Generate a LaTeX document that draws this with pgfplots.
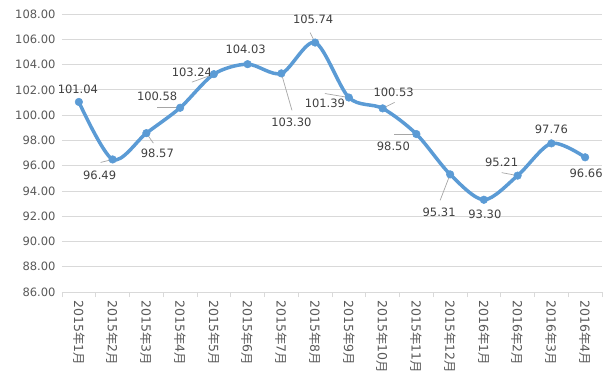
\documentclass[border=0pt]{standalone}
\usepackage{fontspec}
\setmainfont{DejaVu Sans}
\newfontfamily\cjk{Noto Sans CJK SC}
\usepackage{pgfplots}
\pgfplotsset{compat=1.18}
\definecolor{linec}{HTML}{5B9BD5}
\definecolor{gridc}{HTML}{D9D9D9}
\definecolor{tickc}{HTML}{595959}
\definecolor{labc}{HTML}{404040}
\definecolor{leadc}{HTML}{A6A6A6}
\newcommand{\ym}[2]{#1{\cjk 年}#2{\cjk 月}}
\begin{document}
\begin{tikzpicture}
\begin{axis}[
  scale only axis, width=540bp, height=278bp,
  xmin=-0.5, xmax=15.5, ymin=86, ymax=108,
  ytick={86,88,90,92,94,96,98,100,102,104,106,108},
  yticklabel={\pgfmathprintnumber[fixed,fixed zerofill,precision=2,assume math mode=true]{\tick}},
  xtick={0,...,15},
  xticklabels={\ym{2015}{1},\ym{2015}{2},\ym{2015}{3},\ym{2015}{4},\ym{2015}{5},\ym{2015}{6},\ym{2015}{7},\ym{2015}{8},\ym{2015}{9},\ym{2015}{10},\ym{2015}{11},\ym{2015}{12},\ym{2016}{1},\ym{2016}{2},\ym{2016}{3},\ym{2016}{4}},
  minor xtick={-0.5,0.5,...,15.5},
  axis lines*=left,
  x axis line style={draw=gridc, line width=0.75bp},
  y axis line style={draw=none},
  ymajorgrids, grid style={draw=gridc, line width=0.75bp},
  major tick length=0pt, minor tick length=5bp,
  tick align=outside,
  minor tick style={draw=gridc, line width=0.75bp},
  major tick style={draw=none},
  yticklabel style={font=\fontsize{11.5bp}{13bp}\selectfont, text=tickc, xshift=-3bp},
  xticklabel style={font=\fontsize{12.5bp}{14bp}\selectfont, text=tickc, rotate=-90, anchor=west, xshift=5bp},
  clip=false,
]
\coordinate (ll) at (rel axis cs:0,0);
\coordinate (ur) at (rel axis cs:1,1);
\addplot[linec, line width=3.5bp, smooth, tension=0.5, mark=*, mark size=3.8bp,
  mark options={fill=linec, draw=linec, line width=0.5bp}] coordinates {
(0,101.04) (1,96.49) (2,98.57) (3,100.58) (4,103.24) (5,104.03) (6,103.30) (7,105.74)
(8,101.39) (9,100.53) (10,98.50) (11,95.31) (12,93.30) (13,95.21) (14,97.76) (15,96.66)};
% leader lines
\draw[leadc, line width=0.7bp] (axis cs:1,96.49) -- ++(-12bp,-3bp);
\draw[leadc, line width=0.7bp] (axis cs:2,98.57) -- ++(7bp,-10bp);
\draw[leadc, line width=0.7bp] (axis cs:3,100.58) -- ++(-23bp,0bp);
\draw[leadc, line width=0.7bp] (axis cs:4,103.24) -- ++(-22bp,-8bp);
\draw[leadc, line width=0.7bp] (axis cs:6,103.30) -- ++(10.6bp,-37bp);
\draw[leadc, line width=0.7bp] (axis cs:7,105.74) -- ++(-5bp,10bp);
\draw[leadc, line width=0.7bp] (axis cs:8,101.39) -- ++(-24bp,4bp);
\draw[leadc, line width=0.7bp] (axis cs:9,100.53) -- ++(12bp,6bp);
\draw[leadc, line width=0.7bp] (axis cs:10,98.50) -- ++(-22bp,0bp);
\draw[leadc, line width=0.7bp] (axis cs:11,95.31) -- ++(-10bp,-26bp);
\draw[leadc, line width=0.7bp] (axis cs:13,95.21) -- ++(-16bp,3bp);
\tikzset{dl/.style={font=\fontsize{11.5bp}{13bp}\selectfont, text=labc, inner sep=0pt, fill=none}}
\node[dl, xshift=-1bp, yshift=13bp] at (axis cs:0,101.04) {101.04};
\node[dl, xshift=-13bp, yshift=-16bp] at (axis cs:1,96.49) {96.49};
\node[dl, xshift=11bp, yshift=-20bp] at (axis cs:2,98.57) {98.57};
\node[dl, xshift=-23bp, yshift=11bp] at (axis cs:3,100.58) {100.58};
\node[dl, xshift=-22bp, yshift=2bp] at (axis cs:4,103.24) {103.24};
\node[dl, xshift=-2bp, yshift=15bp] at (axis cs:5,104.03) {104.03};
\node[dl, xshift=10bp, yshift=-49bp] at (axis cs:6,103.30) {103.30};
\node[dl, xshift=-2bp, yshift=23bp] at (axis cs:7,105.74) {105.74};
\node[dl, xshift=-24bp, yshift=-6bp] at (axis cs:8,101.39) {101.39};
\node[dl, xshift=11bp, yshift=16bp] at (axis cs:9,100.53) {100.53};
\node[dl, xshift=-23bp, yshift=-12bp] at (axis cs:10,98.50) {98.50};
\node[dl, xshift=-11bp, yshift=-38bp] at (axis cs:11,95.31) {95.31};
\node[dl, xshift=1bp, yshift=-15bp] at (axis cs:12,93.30) {93.30};
\node[dl, xshift=-16bp, yshift=13bp] at (axis cs:13,95.21) {95.21};
\node[dl, xshift=0bp, yshift=14bp] at (axis cs:14,97.76) {97.76};
\node[dl, xshift=1bp, yshift=-16bp] at (axis cs:15,96.66) {96.66};
\end{axis}
\pgfresetboundingbox
\path ([shift={(-62bp,-92bp)}]ll) rectangle ([shift={(13bp,14bp)}]ur);
\end{tikzpicture}
\end{document}
